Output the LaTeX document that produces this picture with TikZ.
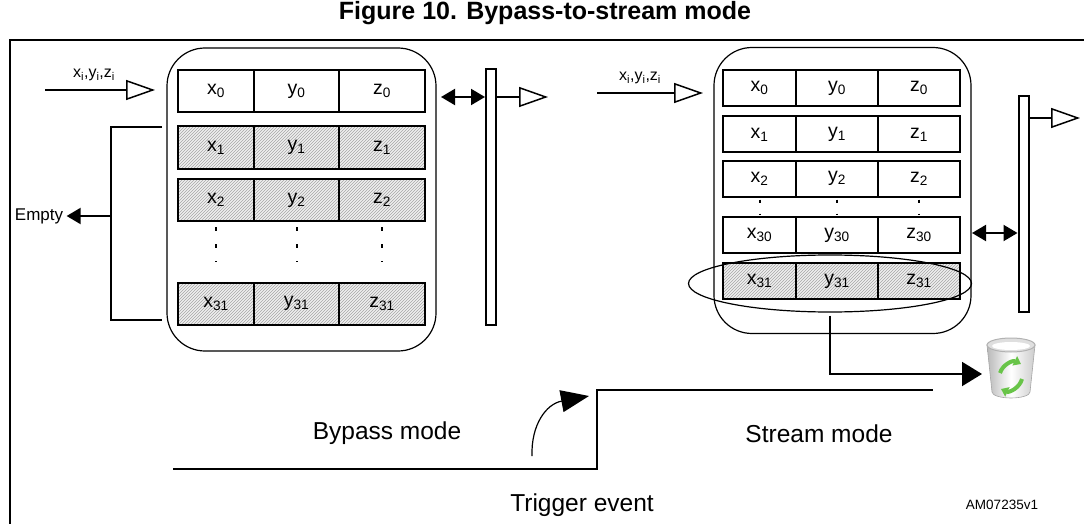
\documentclass[tikz,border=0pt]{standalone}
\usepackage{fontspec}
\setmainfont{Liberation Sans}
\usetikzlibrary{positioning, arrows.meta, shapes.geometric, patterns, calc}
\definecolor{bingreen}{RGB}{104,196,72}
\tikzset{
x=1pt, y=-1pt, % one unit per pixel, y grows downwards
>={Triangle[length=14pt, width=16pt]}, % filled heads
wire/.style={line width=2pt},
cell/.style={draw, line width=2pt, minimum height=42, inner sep=0, font=\fontsize{19.5}{21}\selectfont},
rcell/.style={cell, minimum height=36},
hatched/.style={preaction={fill=gray!12}, pattern=north east lines, pattern color=gray!70},
lfull/.style={cell, hatched},
rfull/.style={rcell, hatched},
fifo/.style={draw, line width=1.2pt, rounded corners=38, inner sep=0},
bar/.style={draw, line width=2pt, minimum width=10, inner sep=0},
opentri/.style={line width=1.5pt, -{Triangle[open, length=29pt, width=20pt]}},
both/.style={wire, <->},
dots/.style={line width=2pt, dash pattern=on 4pt off 13pt},
mode/.style={font=\fontsize{24.5}{28}\selectfont},
small/.style={font=\fontsize{16}{18}\selectfont},
}

\begin{document}
\begin{tikzpicture}
    \useasboundingbox (0,0) rectangle (1084,524);
    \node[font=\fontsize{25}{28}\selectfont\bfseries] (title) at (545,13) {Figure 10. Bypass-to-stream mode};
    \draw[line width=2.5pt] (10,524) -- (10,40) -- (1084,40);

    % bypass FIFO
    \node[fifo, minimum width=269, minimum height=303] (Lbox) at (301.5,199.5) {};
    \foreach \r/\y/\i/\s in {0/91/0/cell, 1/147.5/1/lfull, 2/200/2/lfull, 3/303.5/31/lfull}{
        \node[\s, minimum width=76] (Lx\r) at (216,\y) {x\textsubscript{\i}};
        \node[\s, minimum width=85] (Ly\r) at (296.5,\y) {y\textsubscript{\i}};
        \node[\s, minimum width=86] (Lz\r) at (382,\y) {z\textsubscript{\i}};
    }
    \foreach \c in {x,y,z}
        \draw[dots, shorten <=5, shorten >=20] (L\c2.south) -- (L\c3.north);
    \node[bar, minimum height=256] (Lbar) at (491,197) {};

    \coordinate (Lin) at (45,90);
    \coordinate (Lintip) at (155,90);
    \draw[opentri] (Lin) -- (Lintip);
    \node[small] (Llab) at (94,75) {x\textsubscript{i},y\textsubscript{i},z\textsubscript{i}};
    \coordinate (Lio) at (441,97);
    \draw[both] (Lio) -- (Lbar.west |- Lio);
    \coordinate (Lout) at (548,97);
    \draw[opentri] (Lbar.east |- Lout) -- (Lout);

    \coordinate (Btop) at (162,127);
    \coordinate (Bmid) at (111,216);
    \coordinate (Bbot) at (162,320);
    \draw[wire] (Btop) -| (Bmid) |- (Bbot);
    \node[font=\fontsize{17}{19}\selectfont] (empty) at (39,216) {Empty};
    \draw[wire, ->] (Bmid) -- (empty.east);

    % stream FIFO
    \node[fifo, minimum width=257, minimum height=286] (Rbox) at (842.5,190.5) {};
    \foreach \r/\y/\i/\s in {0/88/0/rcell, 1/134.5/1/rcell, 2/178.5/2/rcell, 3/235/30/rcell, 4/281/31/rfull}{
        \node[\s, minimum width=73] (Rx\r) at (759.5,\y) {x\textsubscript{\i}};
        \node[\s, minimum width=82] (Ry\r) at (837,\y) {y\textsubscript{\i}};
        \node[\s, minimum width=82] (Rz\r) at (919,\y) {z\textsubscript{\i}};
    }
    \foreach \c in {x,y,z}
        \draw[dots, dash pattern=on 3pt off 11pt, shorten <=2, shorten >=2] (R\c2.south) -- (R\c3.north);
    \node[draw, ellipse, line width=1.2pt, minimum width=283, minimum height=57] (sel) at (830,283.5) {};
    \node[bar, minimum height=216] (Rbar) at (1023.5,204) {};

    \coordinate (Rin) at (597,93);
    \coordinate (Rintip) at (703,93);
    \draw[opentri] (Rin) -- (Rintip);
    \node[small] (Rlab) at (640,78) {x\textsubscript{i},y\textsubscript{i},z\textsubscript{i}};
    \coordinate (Rio) at (972,233);
    \draw[both] (Rio) -- (Rbar.west |- Rio);
    \coordinate (Rout) at (1080,118);
    \draw[opentri] (Rbar.east |- Rout) -- (Rout);

    % bin
    \coordinate (bin) at (982,374);
    \draw[wire, -{Triangle[length=20pt, width=24pt]}] ([yshift=-3pt]sel.south) |- (bin);
    \shade[left color=gray!55, right color=gray!40, middle color=white, draw=gray!70, line width=0.6pt]
        (987,345) -- (992,392) arc[start angle=180, end angle=0, x radius=19, y radius=6] -- (1035,345) -- cycle;
    \draw[gray!60, fill=gray!25, line width=1pt] (1011,345) ellipse[x radius=24, y radius=7];
    \fill[white] (1011,346) ellipse[x radius=19, y radius=4];
    \draw[bingreen, line width=4pt, -{Triangle[length=7pt, width=10pt]}] (1000,373) to[bend left=50] (1021,364);
    \draw[bingreen, line width=4pt, -{Triangle[length=7pt, width=10pt]}] (1022,379) to[bend left=50] (1001,389);

    % mode change
    \coordinate (s0) at (173,469);
    \coordinate (s1) at (597,390);
    \coordinate (s2) at (933,390);
    \draw[line width=2.5pt] (s0) -| (s1) -- (s2);
    \coordinate (tr0) at (532,456);
    \coordinate (tr1) at (589,396);
    \draw[line width=1.2pt, -{Triangle[length=28pt, width=22pt]}] (tr0) .. controls (531,425) and (546,404) .. (tr1);

    \node[mode] (bypass) at (387,433) {Bypass mode};
    \node[mode] (stream) at (819,434) {Stream mode};
    \node[mode] (trigger) at (582,505) {Trigger event};
    \node[font=\fontsize{13.5}{15}\selectfont] (id) at (1002,505) {AM07235v1};
\end{tikzpicture}
\end{document}
